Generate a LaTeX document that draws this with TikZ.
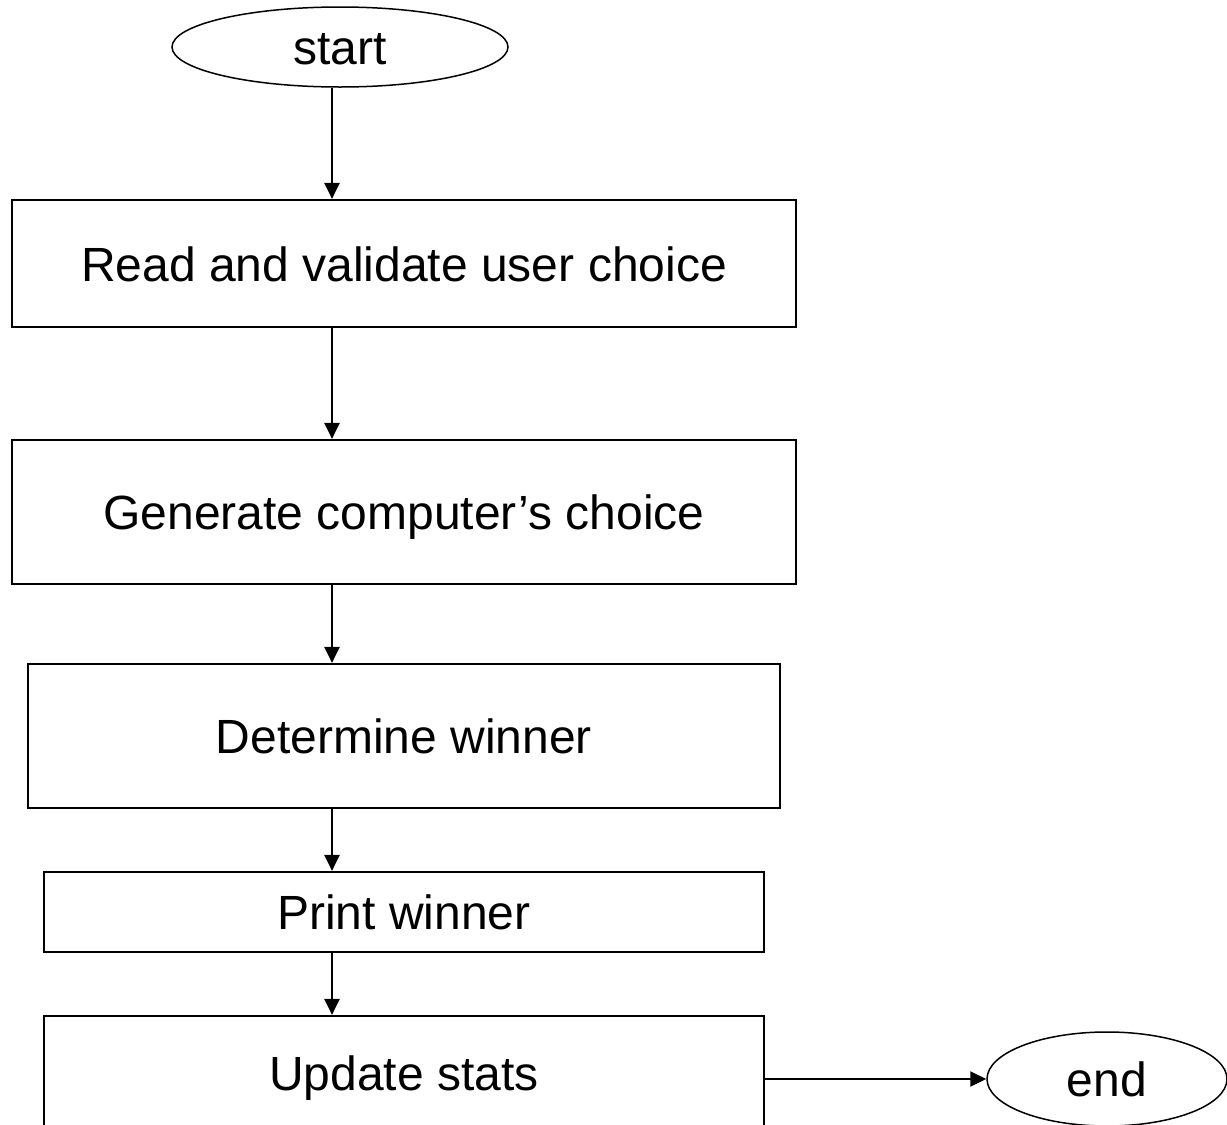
\documentclass[tikz,border=0pt]{standalone}
\usepackage{fontspec}
\setmainfont{Liberation Sans}
\usetikzlibrary{shapes.geometric,arrows.meta}
\begin{document}
\begin{tikzpicture}[x=1pt,y=-1pt,
  every node/.style={font=\fontsize{48}{56}\selectfont, inner sep=0pt,
    text height=35pt, text depth=0pt},
  stepbox/.style={draw, line width=2.2pt, rectangle},
  term/.style={draw, line width=1.5pt, ellipse},
  flow/.style={line width=2.2pt, -{Triangle[length=16pt,width=15pt]}}]
  \useasboundingbox (0,0) rectangle (1227,1125);
  \clip (0,0) rectangle (1227,1125);
  % column along which the vertical connectors run
  \coordinate (ax) at (332,0);
  % terminals
  \node[term, minimum width=336pt, minimum height=80pt] (s) at (340,47) {start};
  \node[term, minimum width=240pt, minimum height=94pt] (e) at (1107,1079) {end};
  % process boxes
  \node[stepbox, minimum width=784pt, minimum height=127pt] (b1) at (404,263.5) {Read and validate user choice};
  \node[stepbox, minimum width=784pt, minimum height=144pt] (b2) at (404,512) {Generate computer’s choice};
  \node[stepbox, minimum width=752pt, minimum height=144pt] (b3) at (404,736) {Determine winner};
  \node[stepbox, minimum width=720pt, minimum height=80pt] (b4) at (404,912) {Print winner};
  \node[stepbox, minimum width=720pt, minimum height=113pt] (b5) at (404,1072.5) {Update stats};
  % connectors
  \draw[flow] (s.south -| ax) -- (b1.north -| ax);
  \draw[flow] (b1.south -| ax) -- (b2.north -| ax);
  \draw[flow] (b2.south -| ax) -- (b3.north -| ax);
  \draw[flow] (b3.south -| ax) -- (b4.north -| ax);
  \draw[flow] (b4.south -| ax) -- (b5.north -| ax);
  \draw[flow] (b5.east |- e.west) -- (e.west);
\end{tikzpicture}
\end{document}
